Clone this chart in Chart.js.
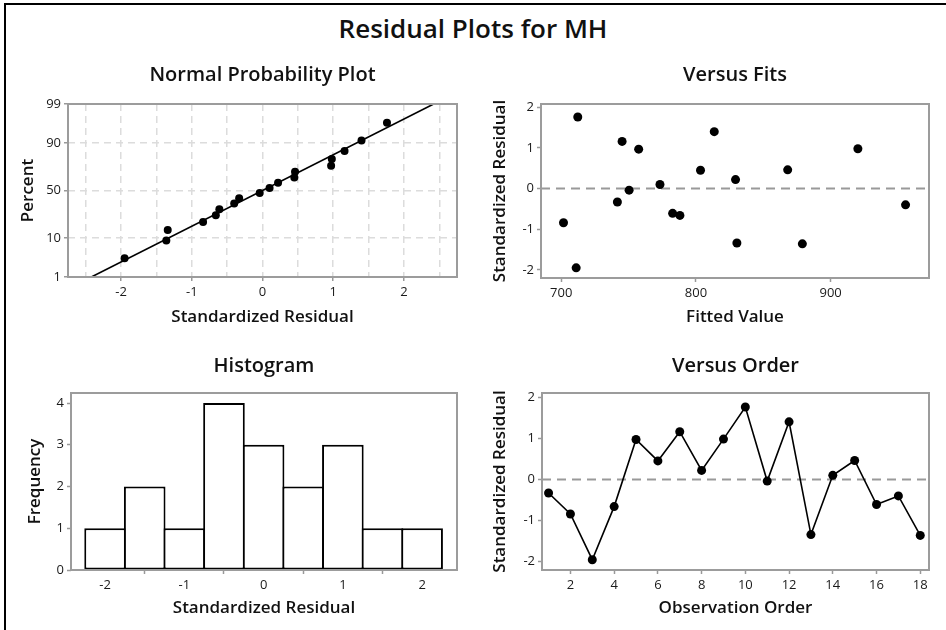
<!DOCTYPE html>
<html>
<head>
<meta charset="utf-8">
<script src="https://cdn.jsdelivr.net/npm/chart.js@4.4.1/dist/chart.umd.min.js"></script>
<style>
  body { margin: 0; background: #fff; }
  #wrap { position: relative; width: 946px; height: 630px; background: #fff; overflow: hidden; font-family: 'Open Sans', sans-serif; }
  #edge { position: absolute; left: 4px; top: 3px; right: 0; bottom: -5px; border-top: 2px solid #000; border-left: 2px solid #000; }
  h1 { position: absolute; left: 0; top: 10px; width: 946px; margin: 0; text-align: center; font-size: 26px; font-weight: 600; line-height: 36px; color: #111; }
  canvas { position: absolute; }
</style>
</head>
<body>
<div id="wrap">
  <div id="edge"></div>
  <h1>Residual Plots for MH</h1>
  <canvas id="npp" width="470" height="290" style="left:0;top:50px"></canvas>
  <canvas id="fits" width="476" height="290" style="left:470px;top:50px"></canvas>
  <canvas id="hist" width="470" height="290" style="left:0;top:340px"></canvas>
  <canvas id="order" width="476" height="290" style="left:470px;top:340px"></canvas>
</div>
<script>
// standardized residuals and fitted values, by observation order
const OBS_ORDER = [1, 2, 3, 4, 5, 6, 7, 8, 9, 10, 11, 12, 13, 14, 15, 16, 17, 18];
const RESID = [-0.33, -0.84, -1.95, -0.66, 0.97, 0.45, 1.16, 0.22, 0.98, 1.76, -0.04, 1.40, -1.34, 0.10, 0.46, -0.61, -0.40, -1.36];
const FITTED = [741.7, 701.7, 711.1, 788.1, 757.5, 803.4, 745.2, 829.4, 920.2, 712.3, 750.4, 813.6, 830.4, 773.3, 868.1, 782.7, 955.6, 879.0];

// normal probability plot: percent for each sorted residual, and the fitted line ends
const NPP_PCT = [3.4, 8.9, 14.4, 19.9, 25.3, 30.8, 36.3, 41.8, 47.3, 52.7, 58.2, 63.7, 69.2, 74.7, 80.1, 85.6, 91.1, 96.6];
const FIT_LINE_X = [-2.42, 2.42];
const FIT_LINE_PCT = [1, 99];
const PCT_TICKS = [1, 10, 50, 90, 99];
const NPP_X_GRID = [-2.5, -2, -1.5, -1, -0.5, 0, 0.5, 1, 1.5, 2, 2.5];

// histogram bins
const HIST_MIDS = [-2, -1.5, -1, -0.5, 0, 0.5, 1, 1.5, 2];
const HIST_COUNTS = [1, 2, 1, 4, 3, 2, 3, 1, 1];

const RESID_TICKS = [-2, -1, 0, 1, 2];
const FIT_TICKS = [700, 800, 900];
const ORDER_TICKS = [2, 4, 6, 8, 10, 12, 14, 16, 18];
const FREQ_TICKS = [0, 1, 2, 3, 4];

// inverse of the standard normal cdf (Acklam)
function normInv(p) {
  const a = [-39.69683028665376, 220.9460984245205, -275.9285104469687, 138.3577518672690, -30.66479806614716, 2.506628277459239];
  const b = [-54.47609879822406, 161.5858368580409, -155.6989798598866, 66.80131188771972, -13.28068155288572];
  const c = [-0.007784894002430293, -0.3223964580411365, -2.400758277161838, -2.549732539343734, 4.374664141464968, 2.938163982698783];
  const d = [0.007784695709041462, 0.3224671290700398, 2.445134137142996, 3.754408661907416];
  const lo = 0.02425;
  let q, r;
  if (p < lo) {
    q = Math.sqrt(-2 * Math.log(p));
    return (((((c[0]*q+c[1])*q+c[2])*q+c[3])*q+c[4])*q+c[5]) / ((((d[0]*q+d[1])*q+d[2])*q+d[3])*q+1);
  }
  if (p > 1 - lo) {
    q = Math.sqrt(-2 * Math.log(1 - p));
    return -(((((c[0]*q+c[1])*q+c[2])*q+c[3])*q+c[4])*q+c[5]) / ((((d[0]*q+d[1])*q+d[2])*q+d[3])*q+1);
  }
  q = p - 0.5; r = q * q;
  return (((((a[0]*r+a[1])*r+a[2])*r+a[3])*r+a[4])*r+a[5])*q / (((((b[0]*r+b[1])*r+b[2])*r+b[3])*r+b[4])*r+1);
}

Chart.defaults.font.family = "'Open Sans', sans-serif";
Chart.defaults.color = '#222';

// grey box around the plot area
const frame = {
  id: 'frame',
  afterDraw(chart) {
    const { ctx, chartArea: a } = chart;
    ctx.save();
    ctx.strokeStyle = '#9c9c9c';
    ctx.lineWidth = 2;
    ctx.strokeRect(a.left, a.top, a.right - a.left, a.bottom - a.top);
    ctx.restore();
  }
};

// dashed reference line at residual = 0
const zeroLine = {
  id: 'zeroLine',
  beforeDatasetsDraw(chart, args, opts) {
    if (!opts.show) return;
    const { ctx, chartArea: a, scales } = chart;
    const y = scales.y.getPixelForValue(0);
    ctx.save();
    ctx.strokeStyle = '#999';
    ctx.lineWidth = 2;
    ctx.setLineDash([9, 6]);
    ctx.beginPath();
    ctx.moveTo(a.left, y);
    ctx.lineTo(a.right, y);
    ctx.stroke();
    ctx.restore();
  }
};
Chart.register(frame, zeroLine);

const plainGrid = { drawOnChartArea: false, drawTicks: true, tickLength: 4, tickColor: '#999', tickWidth: 1.5 };

function axis(o) {
  return {
    type: 'linear',
    min: o.min,
    max: o.max,
    offset: false,
    afterBuildTicks: s => { s.ticks = o.ticks.map(v => ({ value: v })); },
    afterFit: o.horizontal ? s => { s.height = o.size; } : s => { s.width = o.size; },
    ticks: { autoSkip: false, maxRotation: 0, padding: 3, font: { size: 13 }, color: '#1a1a1a', callback: o.label || (v => String(v)) },
    grid: o.grid || plainGrid,
    border: o.border || { display: false },
    title: { display: true, text: o.title, font: { size: 17, weight: '600' }, color: '#111', padding: { top: o.titlePad, bottom: o.titlePad } }
  };
}

function panelPlugins(title, pad, zero) {
  return {
    legend: { display: false },
    tooltip: { enabled: false },
    title: { display: true, text: title, fullSize: false, font: { size: 20, weight: '600' }, color: '#111', padding: pad },
    zeroLine: { show: zero }
  };
}

const topTitlePad = { top: 13, bottom: 17 };
const bottomTitlePad = { top: 14.7, bottom: 14.3 };

// Normal Probability Plot
const sortedResid = RESID.slice().sort((p, q) => p - q);
new Chart(document.getElementById('npp'), {
  type: 'scatter',
  data: {
    datasets: [
      {
        data: sortedResid.map((r, i) => ({ x: r, y: normInv(NPP_PCT[i] / 100) })),
        pointRadius: 4, pointBackgroundColor: '#000', pointBorderColor: '#000', pointBorderWidth: 0
      },
      {
        data: FIT_LINE_X.map((x, i) => ({ x: x, y: normInv(FIT_LINE_PCT[i] / 100) })),
        showLine: true, borderColor: '#000', borderWidth: 1.6, pointRadius: 0
      }
    ]
  },
  options: {
    responsive: false, animation: false,
    layout: { padding: { right: 13 } },
    plugins: panelPlugins('Normal Probability Plot', topTitlePad, false),
    scales: {
      x: axis({
        horizontal: true, min: -2.75, max: 2.75, ticks: NPP_X_GRID, size: 63,
        title: 'Standardized Residual', titlePad: 13.1,
        label: v => Number.isInteger(v) ? String(v) : '',
        grid: {
          color: '#dcdcdc', lineWidth: 1.5, tickLength: 4, tickWidth: 1.5, tickBorderDash: [],
          tickColor: c => Number.isInteger(c.tick.value) ? '#999' : 'rgba(0,0,0,0)'
        },
        border: { display: false, dash: [7, 5] }
      }),
      y: axis({
        min: normInv(0.01), max: normInv(0.99), ticks: PCT_TICKS.map(p => normInv(p / 100)), size: 68,
        title: 'Percent', titlePad: 18.1,
        label: (v, i) => String(PCT_TICKS[i]),
        grid: { color: '#dcdcdc', lineWidth: 1.5, tickLength: 4, tickWidth: 1.5, tickColor: '#999', tickBorderDash: [] },
        border: { display: false, dash: [7, 5] }
      })
    }
  }
});

// Versus Fits
new Chart(document.getElementById('fits'), {
  type: 'scatter',
  data: {
    datasets: [{
      data: FITTED.map((f, i) => ({ x: f, y: RESID[i] })),
      pointRadius: 4.5, pointBackgroundColor: '#000', pointBorderColor: '#000', pointBorderWidth: 0
    }]
  },
  options: {
    responsive: false, animation: false,
    layout: { padding: { right: 17 } },
    plugins: panelPlugins('Versus Fits', topTitlePad, true),
    scales: {
      x: axis({ horizontal: true, min: 685, max: 973, ticks: FIT_TICKS, size: 62, title: 'Fitted Value', titlePad: 13.1 }),
      y: axis({ min: -2.2, max: 2.08, ticks: RESID_TICKS, size: 71, title: 'Standardized Residual', titlePad: 19.8 })
    }
  }
});

// Histogram
new Chart(document.getElementById('hist'), {
  type: 'bar',
  data: {
    datasets: [{
      data: HIST_MIDS.map((m, i) => ({ x: m, y: HIST_COUNTS[i] })),
      backgroundColor: '#fff', borderColor: '#000', borderWidth: 2, borderSkipped: false,
      barPercentage: 1.05, categoryPercentage: 1
    }]
  },
  options: {
    responsive: false, animation: false,
    layout: { padding: { right: 13 } },
    plugins: panelPlugins('Histogram', bottomTitlePad, false),
    scales: {
      x: axis({ horizontal: true, min: -2.43, max: 2.44, ticks: RESID_TICKS, size: 60, title: 'Standardized Residual', titlePad: 11.5 }),
      y: axis({ min: 0, max: 4.24, ticks: FREQ_TICKS, size: 71, title: 'Frequency', titlePad: 24.8 })
    }
  }
});

// Versus Order
new Chart(document.getElementById('order'), {
  type: 'line',
  data: {
    datasets: [{
      data: OBS_ORDER.map((n, i) => ({ x: n, y: RESID[i] })),
      borderColor: '#000', borderWidth: 1.6, tension: 0,
      pointRadius: 4.5, pointBackgroundColor: '#000', pointBorderColor: '#000', pointBorderWidth: 0
    }]
  },
  options: {
    responsive: false, animation: false,
    layout: { padding: { right: 17 } },
    plugins: panelPlugins('Versus Order', bottomTitlePad, true),
    scales: {
      x: axis({ horizontal: true, min: 0.7, max: 18.4, ticks: ORDER_TICKS, size: 60, title: 'Observation Order', titlePad: 11.5 }),
      y: axis({ min: -2.2, max: 2.1, ticks: RESID_TICKS, size: 72, title: 'Standardized Residual', titlePad: 19.8 })
    }
  }
});
</script>
</body>
</html>
